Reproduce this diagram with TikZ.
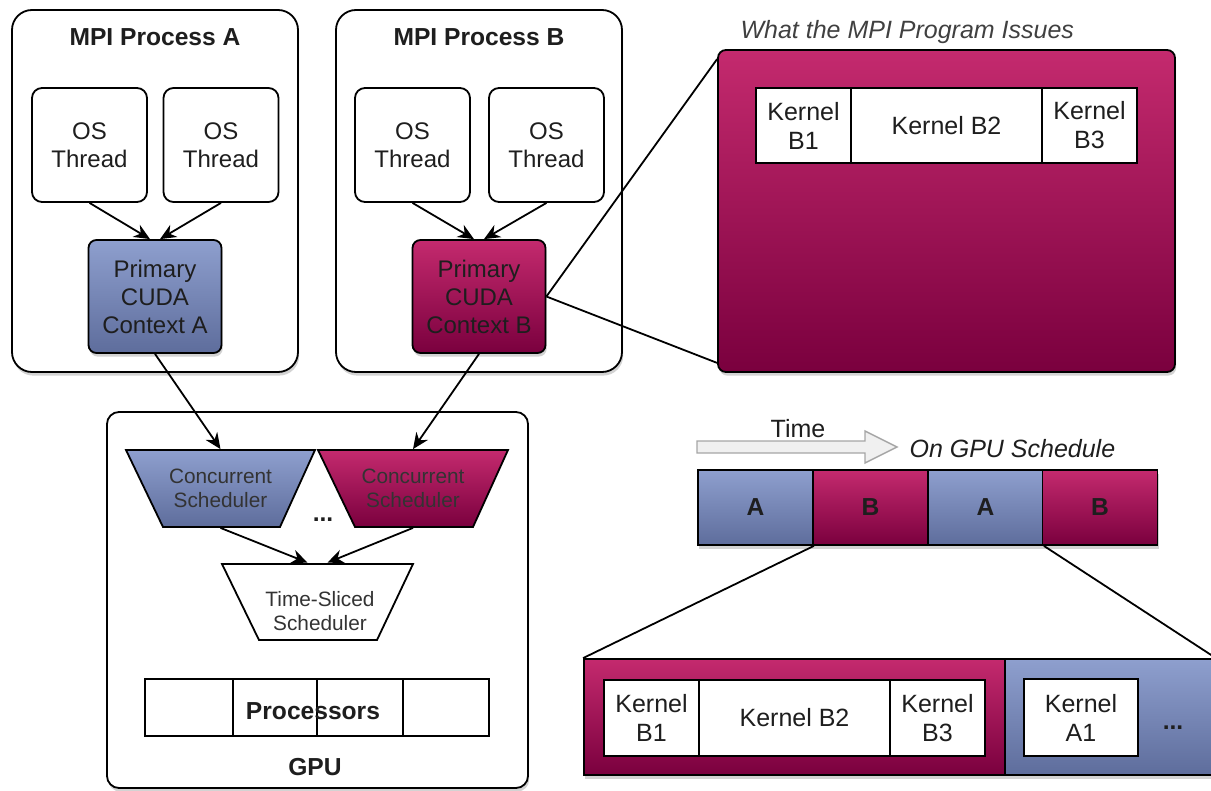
\documentclass[tikz,border=0pt]{standalone}
\usepackage{fontspec}
\setmainfont{Liberation Sans}
\usetikzlibrary{arrows.meta,shadows}

\definecolor{bluetop}{HTML}{8E9FCE}
\definecolor{bluebot}{HTML}{5E6D9C}
\definecolor{magtop}{HTML}{C42A6E}
\definecolor{magbot}{HTML}{7A003E}
\definecolor{ink}{HTML}{1E1E1E}

\begin{document}
\begin{tikzpicture}[x=0.5pt, y=-0.5pt, line width=0.9pt, >={Stealth[length=8pt,width=7pt]},
    text=ink,
    shade/.style = {drop shadow={shadow xshift=0.6pt, shadow yshift=-1.8pt, opacity=0.35}},
    bluefill/.style = {top color=bluetop, bottom color=bluebot},
    magfill/.style = {top color=magtop, bottom color=magbot},
    txt/.style = {font=\fontsize{12}{14}\selectfont, align=center},
    bold/.style = {font=\bfseries\fontsize{12.3}{14}\selectfont},
    small/.style = {font=\fontsize{10.4}{12}\selectfont, align=center, text=black!80},
    proc/.style = {draw, rounded corners=10pt, fill=white, minimum width=143pt, minimum height=181pt, shade},
    thread/.style = {draw, txt, rounded corners=5pt, fill=white, minimum width=57.5pt, minimum height=57pt, inner sep=0pt},
    ctx/.style = {draw, txt, rounded corners=4pt, minimum width=66.5pt, minimum height=56.5pt, inner sep=0pt, shade},
    cell/.style = {draw, txt, fill=white, minimum height=37.5pt, inner sep=0pt, font=\fontsize{12.5}{14.5}\selectfont},
    slot/.style = {draw, minimum width=57.5pt, minimum height=37.5pt, inner sep=0pt, font=\bfseries\fontsize{12.3}{14}\selectfont, shade},
    trap/.style = {minimum width=80pt, minimum height=38.5pt, inner sep=0pt}]

    \useasboundingbox (0,0) rectangle (1211,791);

    % MPI processes
    \node[proc] (procA) at (155,191) {};
    \node[bold] (titleA) at (155,37) {MPI Process A};
    \node[thread] (thA1) at (89.5,145) {OS\\Thread};
    \node[thread] (thA2) at (221,145) {OS\\Thread};
    \node[ctx, bluefill] (ctxA) at (155,296.5) {Primary\\CUDA\\Context A};
    \draw[->] (thA1.south) -- ([xshift=-2.5pt]ctxA.north);
    \draw[->] (thA2.south) -- ([xshift=2.5pt]ctxA.north);

    \node[proc] (procB) at (479,191) {};
    \node[bold] (titleB) at (479,37) {MPI Process B};
    \node[thread] (thB1) at (412.5,145) {OS\\Thread};
    \node[thread] (thB2) at (546.5,145) {OS\\Thread};
    \node[ctx, magfill] (ctxB) at (479,296.5) {Primary\\CUDA\\Context B};
    \draw[->] (thB1.south) -- ([xshift=-2.5pt]ctxB.north);
    \draw[->] (thB2.south) -- ([xshift=2.5pt]ctxB.north);

    % what the program issues
    \node[draw, magfill, rounded corners=4pt, minimum width=228.5pt, minimum height=161pt, shade] (issue) at (946.5,211) {};
    \node[anchor=west, font=\itshape\fontsize{12.5}{14}\selectfont, text=black!75] (issuecap) at (733,32) {What the MPI Program Issues};
    \node[cell, minimum width=47.5pt] (kB1) at (803.5,125.5) {Kernel\\B1};
    \node[cell, minimum width=95.5pt] (kB2) at (946.5,125.5) {Kernel B2};
    \node[cell, minimum width=47.5pt] (kB3) at (1089.5,125.5) {Kernel\\B3};
    \draw (ctxB.east) -- ([yshift=-5pt]issue.north west);
    \draw (ctxB.east) -- ([yshift=5pt]issue.south west);

    % GPU
    \node[draw, rounded corners=6pt, fill=white, minimum width=210.5pt, minimum height=188pt, shade] (gpu) at (317.5,600) {};
    \draw[bluefill] (126,450) -- (315,450) -- (280,527) -- (163,527) -- cycle;
    \draw[magfill] (318,450) -- (508,450) -- (473,527) -- (355,527) -- cycle;
    \draw[fill=white] (222,564) -- (413,564) -- (377,640) -- (259,640) -- cycle;
    \node[trap, small] (concA) at (220.5,488.5) {Concurrent\\Scheduler};
    \node[trap, small] (concB) at (413,488.5) {Concurrent\\Scheduler};
    \node[trap] (tsched) at (317.5,602) {};
    \node[small] (tschedlbl) at (320,611) {Time-Sliced\\Scheduler};
    \node[bold] (gpudots) at (323,520) {...};
    \draw[->] (ctxA.south) -- (concA.north);
    \draw[->] (ctxB.south) -- (concB.north);
    \draw[->] (concA.south) -- ([xshift=-5pt]tsched.north);
    \draw[->] (concB.south) -- ([xshift=5pt]tsched.north);

    \foreach \i/\x/\w in {1/189/44, 2/275/42, 3/360/43, 4/446/43}
        \node[draw, fill=white, minimum width=\w pt, minimum height=28.5pt] (pu\i) at (\x,707.5) {};
    \node[bold] (pulbl) at (313,711) {Processors};
    \node[bold] (gpulbl) at (315,767) {GPU};

    % schedule on the GPU
    \draw[gray!70, fill=gray!12, line width=0.7pt] (697,441) -- (865,441) -- (865,431) -- (897,447)
        -- (865,463) -- (865,453) -- (697,453) -- cycle;
    \node[font=\fontsize{12.5}{14}\selectfont] (timelbl) at (798,429) {Time};
    \node[anchor=west, font=\itshape\fontsize{12.5}{14}\selectfont] (schedcap) at (902,449) {On GPU Schedule};
    \foreach \i/\x/\l/\f in {1/755.5/A/bluefill, 2/870.5/B/magfill, 3/985.5/A/bluefill, 4/1100/B/magfill}
        \node[slot, \f] (slot\i) at (\x,507.5) {\l};

    % zoomed slice
    \node[draw, magfill, minimum width=210.5pt, minimum height=58pt, shade] (zoomB) at (794.5,717) {};
    \node[draw, bluefill, minimum width=105pt, minimum height=58pt, shade] (zoomA) at (1110,717) {};
    \node[cell, minimum width=47.5pt, minimum height=38pt] (zB1) at (651.5,718) {Kernel\\B1};
    \node[cell, minimum width=95.5pt, minimum height=38pt] (zB2) at (794.5,718) {Kernel B2};
    \node[cell, minimum width=47.5pt, minimum height=38pt] (zB3) at (937.5,718) {Kernel\\B3};
    \node[cell, minimum width=57pt, minimum height=38.5pt] (zA1) at (1081,717.5) {Kernel\\A1};
    \node[bold] (zdots) at (1173,728) {...};
    \draw (slot1.south east) -- (zoomB.north west);
    \draw (slot3.south east) -- (zoomA.north east);

\end{tikzpicture}
\end{document}
